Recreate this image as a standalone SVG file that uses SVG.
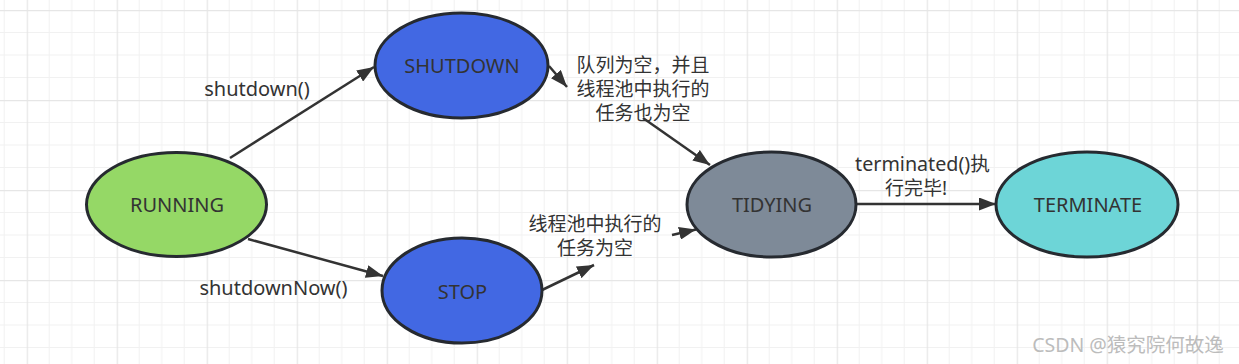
<svg xmlns="http://www.w3.org/2000/svg" width="1239" height="364" viewBox="0 0 1239 364">
  <style>
    .node { stroke: #262a30; stroke-width: 3; }
    .lbl { font-family: "Noto Sans", "Noto Sans CJK SC", sans-serif; font-size: 19px; fill: #333333; text-anchor: middle; }
    .lat { font-size: 20px; }
    .edge { stroke: #333333; stroke-width: 2.5; fill: none; marker-end: url(#arrow); }
    .wm { font-family: "Noto Sans", "Noto Sans CJK SC", sans-serif; font-size: 19.5px; fill: #bcbcbc; text-anchor: middle; }
  </style>
  <defs>
    <pattern id="grid" patternUnits="userSpaceOnUse" x="26.7" y="10" width="90" height="90">
      <path d="M22.5 0V90M45 0V90M67.5 0V90M0 22.5H90M0 45H90M0 67.5H90" stroke="#f1f1f1" stroke-width="1" fill="none"/>
      <path d="M0.5 0V90M0 0.5H90" stroke="#e6e6e6" stroke-width="1.5" fill="none"/>
    </pattern>
    <marker id="arrow" markerUnits="userSpaceOnUse" markerWidth="18" markerHeight="13" refX="17" refY="6.5" orient="auto">
      <path d="M0,0 L17,6.5 L0,13 Z" fill="#333333"/>
    </marker>
  </defs>
  <rect width="1239" height="364" fill="#ffffff"/>
  <rect width="1239" height="364" fill="url(#grid)"/>

  <g id="connectors">
    <line class="edge" x1="230" y1="158" x2="374" y2="67"/>
    <line class="edge" x1="248" y1="239" x2="383" y2="276"/>
    <line class="edge" x1="549" y1="66" x2="567" y2="87"/>
    <line class="edge" x1="643" y1="118" x2="710" y2="165"/>
    <line class="edge" x1="541" y1="290.5" x2="594" y2="265"/>
    <line class="edge" x1="672" y1="235" x2="696" y2="229.5"/>
    <line class="edge" x1="856" y1="204" x2="996" y2="204"/>
  </g>

  <g id="label-shutdown">
    <text class="lbl lat" x="257" y="96">shutdown()</text>
  </g>
  <g id="label-shutdownNow">
    <text class="lbl lat" x="273.5" y="295">shutdownNow()</text>
  </g>
  <g id="label-queue-empty">
    <text class="lbl" x="643" y="72">队列为空，并且</text>
    <text class="lbl" x="643" y="96">线程池中执行的</text>
    <text class="lbl" x="643" y="120">任务也为空</text>
  </g>
  <g id="label-tasks-empty">
    <text class="lbl" x="595" y="231">线程池中执行的</text>
    <text class="lbl" x="595" y="255">任务为空</text>
  </g>
  <g id="label-terminated">
    <text class="lbl" x="922.5" y="171" style="font-size:19.7px">terminated()执</text>
    <text class="lbl" x="916" y="195">行完毕!</text>
  </g>

  <g id="node-running">
    <ellipse class="node" cx="176.5" cy="204.5" rx="90" ry="52" fill="#95d866"/>
    <text class="lbl lat" x="177" y="211.5">RUNNING</text>
  </g>
  <g id="node-shutdown">
    <ellipse class="node" cx="461.5" cy="65.5" rx="86.5" ry="52.5" fill="#4268e3"/>
    <text class="lbl lat" x="462" y="73">SHUTDOWN</text>
  </g>
  <g id="node-stop">
    <ellipse class="node" cx="462" cy="290.5" rx="80" ry="52.5" fill="#4268e3"/>
    <text class="lbl lat" x="462.5" y="299">STOP</text>
  </g>
  <g id="node-tidying">
    <ellipse class="node" cx="771.5" cy="204.5" rx="84.5" ry="52.5" fill="#7e8a98"/>
    <text class="lbl lat" x="772" y="211.5">TIDYING</text>
  </g>
  <g id="node-terminate">
    <ellipse class="node" cx="1087" cy="204.5" rx="91" ry="52.5" fill="#6dd5d7"/>
    <text class="lbl lat" x="1088" y="211.5">TERMINATE</text>
  </g>

  <text class="wm" x="1128" y="352">CSDN @猿究院何故逸</text>
</svg>
